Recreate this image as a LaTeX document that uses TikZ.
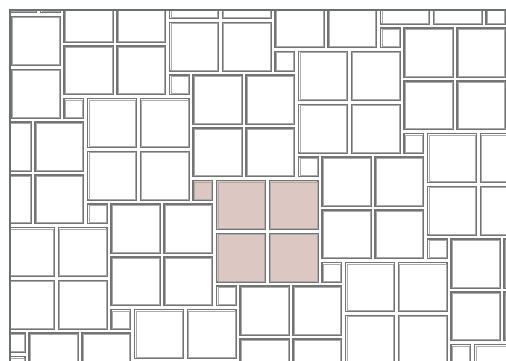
\documentclass[tikz,border=0pt]{standalone}
\usepackage{xcolor}
\usepackage{tikz}
\usetikzlibrary{calc}
\definecolor{tileline}{HTML}{747474}
\definecolor{tilesoft}{HTML}{ABABAB}
\definecolor{tilepink}{HTML}{DCC7C3}
\definecolor{frameline}{HTML}{697076}
\newcommand{\tilegap}{2.0}
% one square tile: corner x, corner y, side, fill
\newcommand{\sqtile}[4]{%
  \draw[tile, fill=#4] (#1+\tilegap,#2+\tilegap) rectangle ++(#3-2*\tilegap,#3-2*\tilegap);
  \draw[tileinner] (#1+\tilegap+1.1,#2+\tilegap+1.1) rectangle ++(#3-2*\tilegap-2.2,#3-2*\tilegap-2.2);}

\begin{document}
\begin{tikzpicture}[x=1pt,y=-1pt,
  tile/.style={draw=tileline, line width=1.5pt},
  tileinner/.style={draw=tilesoft, line width=0.6pt}]
\useasboundingbox (0,0) rectangle (506,361);
\begin{scope}
\clip (10,10) rectangle (506,361);
\foreach \i in {-4,...,4}{
  \foreach \j in {-3,...,4}{
    \pgfmathsetmacro\bx{214.7+105.5*\i+23.5*\j}
    \pgfmathsetmacro\by{178.7-23.5*\i+105.5*\j}
    \ifnum\i=0 \ifnum\j=0 \def\tilefill{tilepink}\else\def\tilefill{white}\fi\else\def\tilefill{white}\fi
    \foreach \p in {0,1}{
      \foreach \q in {0,1}{
        \sqtile{\bx+52.75*\p}{\by+52.75*\q}{52.75}{\tilefill}
      }
    }
    \sqtile{\bx-23.5}{\by}{23.5}{\tilefill}
  }
}
\end{scope}
\draw[frameline, line width=1.5pt] (10,361) -- (10,10) -- (506,10);
\end{tikzpicture}
\end{document}
